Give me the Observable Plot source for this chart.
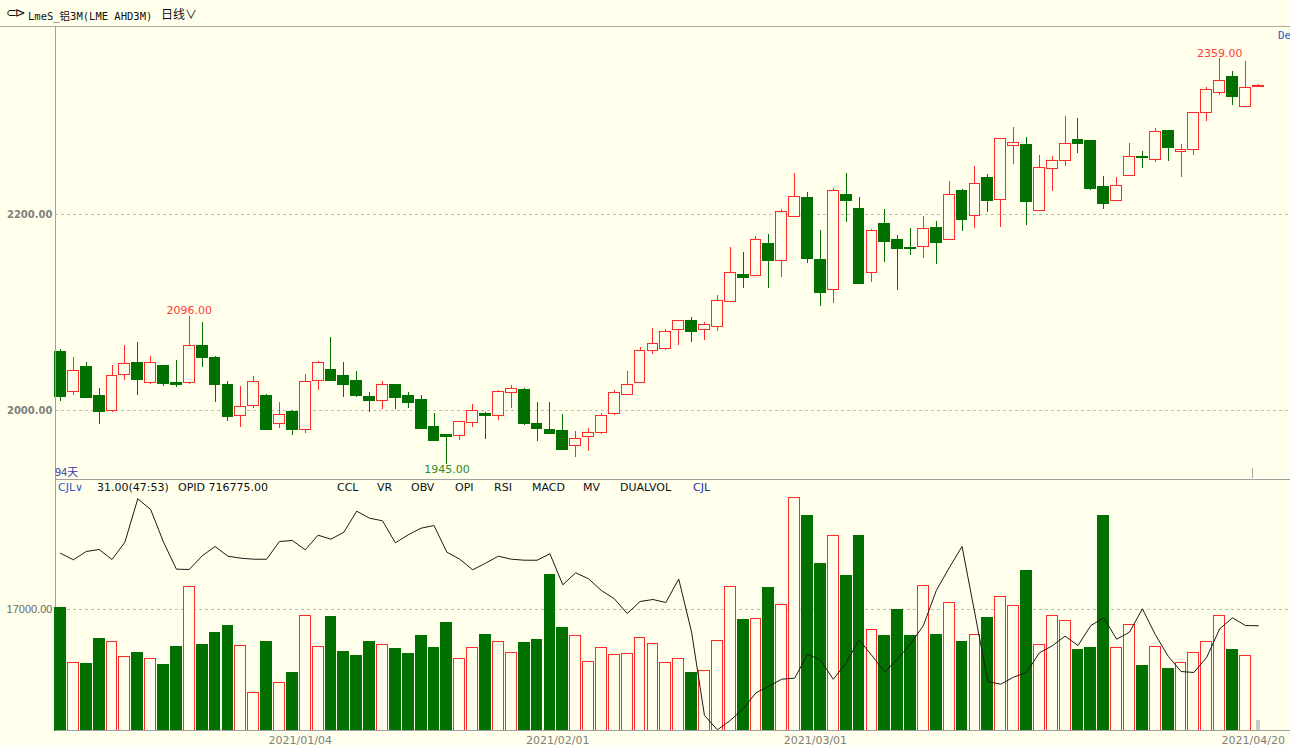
<!DOCTYPE html>
<html>
<head>
<meta charset="utf-8">
<script src="https://cdn.jsdelivr.net/npm/d3@7"></script>
<script src="https://cdn.jsdelivr.net/npm/@observablehq/plot@0.6"></script>
<style>
  html, body { margin:0; padding:0; background:#FFFFEC; overflow:hidden; }
  #root { position:relative; width:1290px; height:745px; background:#FFFFEC; font-family:"DejaVu Sans", sans-serif; }
  .abs { position:absolute; white-space:nowrap; }
  #price g[aria-label^="y-axis"] text { font-weight:bold; }
</style>
</head>
<body>
<div id="root">
  <div class="abs" style="left:0;top:0;width:1290px;height:26px;border-bottom:1px solid #a8a8a0;"></div>
  <div class="abs" style="left:6px;top:5px;font:13px 'DejaVu Sans',sans-serif;color:#111;letter-spacing:-2px;">⊂⊳</div>
  <div class="abs" style="left:28px;top:8px;font:10.5px 'DejaVu Sans Mono','Noto Sans CJK SC',monospace;color:#111;">LmeS_铝3M(LME AHD3M)</div>
  <div class="abs" style="left:161px;top:7px;font:12px 'Noto Sans CJK SC',sans-serif;color:#111;line-height:14px;">日线∨</div>
  <div class="abs" style="left:1278px;top:29px;font:11px 'DejaVu Sans Mono',monospace;color:#3355cc;">De</div>
  <div id="price" class="abs" style="left:0;top:28px;"></div>
  <div class="abs" style="left:55px;top:27px;width:1px;height:703px;background:#a0a0a0;"></div>
  <div class="abs" style="left:55px;top:479px;width:1235px;height:1px;background:#a0a0a0;"></div>
  <div class="abs" style="left:1252px;top:468px;width:1px;height:10px;background:#a8a8a8;"></div>
  <div class="abs" style="left:55px;top:463px;font:11px 'Noto Sans CJK SC',sans-serif;color:#3a3aa8;">94天</div>
  <div id="ind"></div>
  <div id="vol" class="abs" style="left:0;top:495px;"></div>
  <div class="abs" style="left:55px;top:730px;width:1235px;height:1px;background:#a0a0a0;"></div>
</div>
<script>
// ---------- data ----------
const open  = [2060,2019,2044,2015,1999,2036,2048,2028,2045,2028,2028,2066,2054,2026,1994,2005,2015,1986,1998,1980,
               2030,2041,2035,2030,2014,2010,2026,2015,2011,1983,1975,1974,1987,1996,1994,2018,2021,1986,1980,1979,
               1964,1973,1977,1996,2016,2028,2061,2063,2082,2091,2082,2085,2111,2138,2137,2170,2153,2197,2217,2154,
               2123,2220,2206,2140,2190,2174,2166,2167,2186,2174,2224,2198,2237,2215,2270,2271,2204,2246,2255,2276,
               2275,2228,2214,2239,2259,2256,2285,2264,2266,2304,2324,2340,2310,2330];
const high  = [2062,2054,2049,2022,2046,2066,2069,2055,2046,2051,2096,2090,2055,2030,2024,2035,2016,2008,2000,2037,
               2050,2074,2049,2040,2018,2030,2027,2018,2015,1997,1976,1989,2006,1998,2020,2026,2022,2008,2008,1996,
               1979,1982,1997,2020,2040,2064,2084,2083,2091,2095,2090,2117,2166,2161,2178,2180,2205,2242,2222,2184,
               2227,2242,2217,2185,2205,2179,2186,2198,2193,2234,2226,2249,2241,2278,2289,2279,2260,2259,2300,2298,
               2276,2239,2238,2272,2264,2288,2285,2271,2304,2330,2359,2346,2356,2333];
const low   = [2009,2015,2012,1986,1998,2031,2015,2027,2024,2023,2027,2044,2008,1989,1983,2002,1980,1982,1975,1977,
               2020,2030,2013,2013,1998,2001,2001,2002,1981,1969,1945,1969,1983,1970,1990,2002,1985,1968,1976,1960,
               1952,1958,1976,1995,2016,2028,2057,2061,2066,2069,2071,2081,2111,2125,2137,2125,2136,2197,2150,2106,
               2109,2192,2129,2131,2151,2122,2158,2155,2149,2174,2183,2186,2202,2187,2251,2189,2204,2223,2249,2262,
               2225,2205,2213,2239,2247,2253,2254,2238,2260,2295,2321,2311,2310,2330];
const close = [2014,2040,2013,1998,2035,2047,2031,2048,2027,2026,2066,2054,2026,1993,2004,2029,1980,1995,1980,2029,
               2048,2030,2026,2015,2010,2026,2013,2008,1981,1969,1973,1988,2000,1994,2019,2022,1986,1981,1976,1960,
               1971,1977,1994,2018,2026,2061,2068,2080,2091,2080,2087,2112,2140,2135,2174,2153,2203,2218,2155,2120,
               2224,2214,2129,2183,2172,2165,2165,2185,2171,2220,2194,2231,2214,2277,2273,2213,2247,2255,2272,2272,
               2226,2211,2229,2259,2258,2284,2268,2266,2304,2327,2336,2320,2329,2331];
const volume = [17240,9460,9320,12790,12460,10260,10820,9980,9230,11710,
                20140,11940,13630,14610,11800,5300,12360,6650,8050,16110,
                11660,15970,10960,10440,12360,11940,11380,10720,13210,11560,
                15030,9980,11520,13350,12460,10820,12220,12640,21870,14330,
                13210,9600,11520,10580,10720,12930,12080,9460,9980,8050,
                8330,12500,20190,15460,15600,20050,17660,32600,30110,23420,
                27260,21740,27300,14150,13210,16900,13210,20270,13350,17940,
                12360,13440,15740,18730,17520,22440,11940,16110,15410,11240,
                11560,30110,11520,14750,9030,11660,8670,9410,10860,12360,
                16110,11240,10440,1300];
const opi = [745815,743175,746495,747295,743295,750215,767575,763295,750215,739415,
             739300,744775,748495,744615,743815,743415,743380,750495,750895,747175,
             753015,751415,754215,762615,759815,758775,749975,753175,755815,756895,
             746215,743415,739175,741815,744615,743415,743015,742990,745575,733175,
             737975,735575,730895,727575,721695,726495,727295,726095,735490,714215,
             680895,675175,678895,683575,689975,692615,695415,695815,705295,703175,
             695380,701975,711175,704895,698215,703575,709575,716895,730895,739975,
             748495,721575,694495,693415,696215,698095,705975,708775,712615,708895,
             716900,719975,711415,714215,723575,713295,704615,698495,698100,704215,
             715575,719980,716895,716775];
const dateTickIndex = [19, 39, 59, 93];
const dateTickLabel = ["2021/01/04", "2021/02/01", "2021/03/01", "2021/04/20"];
const priceTicks = [2000, 2200];
const volumeTicks = [17000];
const markedHighs = [10, 90];
const markedLows = [30];
const opiRange = [674895, 768895];   // OPI span drawn over the volume panel height
const volumeMax = 33000;
const indicatorItems = [
  {t:"CJL∨", x:58, c:"#3355cc"}, {t:"31.00(47:53)", x:97, c:"#111"}, {t:"OPID 716775.00", x:178, c:"#111"},
  {t:"CCL", x:337, c:"#111"}, {t:"VR", x:377, c:"#111"}, {t:"OBV", x:411, c:"#111"}, {t:"OPI", x:455, c:"#111"},
  {t:"RSI", x:494, c:"#111"}, {t:"MACD", x:532, c:"#111"}, {t:"MV", x:583, c:"#111"},
  {t:"DUALVOL", x:620, c:"#111"}, {t:"CJL", x:693, c:"#2a2aa0"}
];

// ---------- build ----------
const RED = "#ff2b2b", GREEN = "#007000", BG = "#FFFFEC";
const data = open.map((o, i) => ({i, o, h: high[i], l: low[i], c: close[i], v: volume[i], opi: opi[i]}));
const up = d => d.c >= d.o;
const half = 0.42;
const xScale = {domain: [0, 93], range: [60, 1257.8]};

const price = Plot.plot({
  width: 1290, height: 451,
  marginLeft: 55, marginRight: 0, marginTop: 0, marginBottom: 0,
  style: {background: "transparent", fontFamily: "DejaVu Sans, sans-serif", fontSize: "10px", color: "#808080", overflow: "visible"},
  x: {...xScale, axis: null},
  y: {domain: [2000, 2200], range: [382, 186], ticks: priceTicks, tickFormat: d => d.toFixed(2), tickSize: 0, tickPadding: 3, label: null},
  marks: [
    Plot.ruleY(priceTicks, {stroke: "#bdbdb0", strokeDasharray: "3,3"}),
    Plot.ruleX(data, {x: "i", y1: "l", y2: "h", stroke: d => up(d) ? RED : GREEN, shapeRendering: "crispEdges"}),
    Plot.rect(data, {x1: d => d.i - half, x2: d => d.i + half, y1: d => Math.min(d.o, d.c), y2: d => Math.max(d.o, d.c),
      fill: d => up(d) ? BG : GREEN, stroke: d => up(d) ? RED : GREEN, shapeRendering: "crispEdges"}),
    Plot.text(markedHighs, {x: i => i, y: i => high[i], text: i => high[i].toFixed(2), fill: "#ff3a3a",
      lineAnchor: "bottom", dy: -2, fontSize: 11}),
    Plot.text(markedLows, {x: i => i, y: i => low[i], text: i => low[i].toFixed(2), fill: "#2d8a2d",
      lineAnchor: "top", dy: 1, fontSize: 11})
  ]
});
document.getElementById("price").appendChild(price);

const vol = Plot.plot({
  width: 1290, height: 250,
  marginLeft: 55, marginRight: 0, marginTop: 0, marginBottom: 15,
  style: {background: "transparent", fontFamily: "Liberation Sans, Arial, sans-serif", fontSize: "11px", color: "#666", overflow: "visible"},
  x: {...xScale, axis: null},
  y: {domain: [0, volumeMax], ticks: volumeTicks, tickFormat: d => d.toFixed(2), tickSize: 0, tickPadding: 3, label: null},
  marks: [
    Plot.ruleY(volumeTicks, {stroke: "#bdbdb0", strokeDasharray: "3,3"}),
    Plot.rect(data, {x1: d => d.i - (d.i === 93 ? 0.1 : half), x2: d => d.i + (d.i === 93 ? 0.1 : half), y1: 0, y2: "v",
      fill: d => d.i === 93 ? "#c8c8c8" : (up(d) ? BG : GREEN), stroke: d => d.i === 93 ? "#c8c8c8" : (up(d) ? RED : GREEN), shapeRendering: "crispEdges"}),
    Plot.line(data, {x: "i", y: d => (d.opi - opiRange[0]) / (opiRange[1] - opiRange[0]) * volumeMax, stroke: "#1a1a1a", strokeWidth: 1}),
    Plot.text(dateTickIndex, {x: i => i, text: (i, k) => dateTickLabel[k], frameAnchor: "bottom", dy: 13, dx: -5,
      fill: "#808080", fontFamily: "DejaVu Sans, sans-serif", fontSize: 11})
  ]
});
document.getElementById("vol").appendChild(vol);

const ind = document.getElementById("ind");
for (const it of indicatorItems) {
  const s = document.createElement("div");
  s.className = "abs";
  s.style.cssText = `left:${it.x}px;top:481px;font:11px 'DejaVu Sans',sans-serif;color:${it.c};`;
  s.textContent = it.t;
  ind.appendChild(s);
}
</script>
</body>
</html>
